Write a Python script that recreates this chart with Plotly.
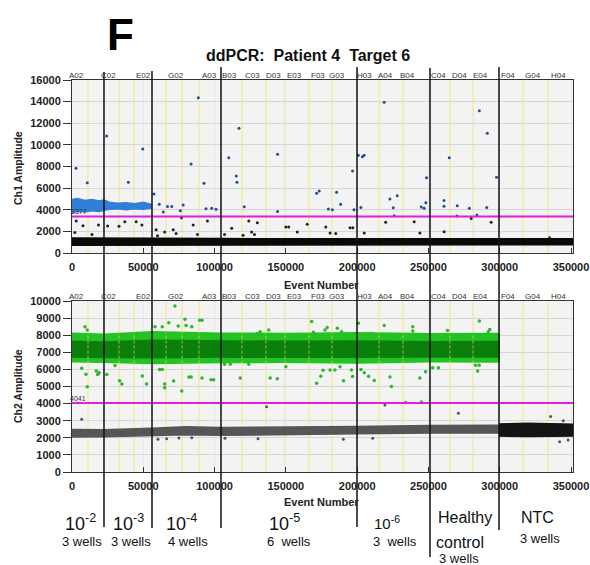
import plotly.graph_objects as go

# ---------------- data ----------------
x_ticks = [0, 50000, 100000, 150000, 200000, 250000, 300000, 350000]
ch1_ticks = [0, 2000, 4000, 6000, 8000, 10000, 12000, 14000, 16000]
ch2_ticks = [0, 1000, 2000, 3000, 4000, 5000, 6000, 7000, 8000, 9000, 10000]

well_labels = ["A02", "C02", "E02", "G02", "A03", "B03", "C03", "D03", "E03", "F03",
               "G03", "H03", "A04", "B04", "C04", "D04", "E04", "F04", "G04", "H04"]
well_label_x = [3500, 25250, 49800, 72900, 96100, 110800, 126300, 141000, 156400, 172600,
                185900, 205500, 219600, 235000, 256800, 271500, 286300, 305900, 323500, 341000]
well_bounds = [11220, 32970, 43490, 65930, 77150, 89080, 119240, 136070, 149400, 166230,
               182360, 215330, 232160, 265130, 281260, 316330, 333860]
group_bounds = [22440, 56110, 104500, 199900, 251100, 299500]

ch1_threshold = 3377
ch2_threshold = 4041

# Ch1 negative droplet band (black)
neg1_x = [0, 22440, 56100, 104500, 150000, 199900, 251100, 299500, 351000]
neg1_lo = [720, 760, 740, 760, 750, 760, 740, 760, 770]
neg1_hi = [1380, 1350, 1360, 1330, 1340, 1350, 1360, 1330, 1320]

# Ch1 positive droplet band (blue)
pos1_x = [0, 4000, 9000, 14000, 19000, 22440, 26000, 32000, 38000, 44000, 50000, 55500]
pos1_lo = [3750, 3850, 3800, 3900, 3850, 3950, 4050, 4100, 4000, 4100, 4050, 4150]
pos1_hi = [4950, 5050, 4850, 4950, 4800, 4900, 4700, 4600, 4650, 4550, 4700, 4500]

# Ch1 scattered droplets above threshold
ch1_hi_x = [2800, 10700, 24300, 39500, 49600, 57500, 83500, 92600, 109900, 117100, 115200,
            115700, 120800, 144200, 144200, 61200, 67000, 70000, 78000, 94000, 98000, 101000,
            64000, 76000, 171600, 173400, 179800, 182600, 185600, 188400, 196800, 197800,
            200800, 203700, 204900, 202600, 219000, 223000, 225300, 228100, 245000, 247000,
            248200, 248700, 260900, 260900, 264600, 270200, 278700, 285700, 291300, 290900,
            297800, 88600, 226000, 270000, 284000]
ch1_hi_y = [7830, 6500, 10820, 6540, 9620, 5460, 8230, 6450, 8820, 11530, 7120,
            6540, 4280, 9130, 3830, 4500, 4300, 4300, 4450, 4100, 4150, 4050,
            3800, 3900, 5520, 5730, 4070, 4000, 5610, 4500, 7590, 4000,
            9030, 8900, 9050, 4200, 13940, 4990, 4190, 5300, 4250, 4150,
            4650, 6970, 4850, 4320, 8820, 4370, 4140, 13160, 11070, 4210,
            7000, 14350, 3450, 3420, 3520]
# Ch1 scattered droplets below threshold
ch1_lo_x = [3000, 7700, 18600, 25000, 33000, 37000, 45000, 49000, 59000, 65000, 71000,
            73000, 76800, 85000, 88000, 95000, 107000, 112000, 124000, 126000, 128000,
            130000, 150000, 152000, 158000, 165000, 178000, 181000, 185000, 195000, 197000,
            205000, 220000, 240000, 244000, 261000, 280000, 294000, 335000, 2000,
            14000, 60000, 120000]
ch1_lo_y = [2950, 2520, 2600, 2500, 2480, 2900, 2900, 2600, 2150, 1950, 2150,
            1800, 3250, 2600, 1700, 2950, 1720, 2280, 2950, 1950, 1720,
            2800, 2400, 2400, 1950, 2650, 2400, 1850, 1800, 2340, 2340,
            1850, 2850, 2900, 1850, 1960, 3200, 2850, 1400, 1900,
            1700, 1600, 1650]

# Ch2 positive droplet band (green): outer and core
pos2_x = [0, 22440, 56100, 80000, 104500, 150000, 199900, 251100, 299500]
pos2_lo = [6450, 6420, 6350, 6380, 6400, 6420, 6380, 6450, 6430]
pos2_hi = [8110, 8050, 8200, 8150, 8120, 8100, 8150, 8080, 8100]
core2_lo = [6720, 6700, 6680, 6700, 6720, 6710, 6700, 6730, 6720]
core2_hi = [7640, 7600, 7700, 7680, 7650, 7640, 7660, 7620, 7630]

# Ch2 negative droplet bands (gray for samples, black for NTC)
neg2_x = [0, 22440, 56100, 80000, 104500, 150000, 199900, 251100, 299500]
neg2_lo = [2050, 2060, 2120, 2180, 2150, 2200, 2230, 2280, 2280]
neg2_hi = [2480, 2470, 2560, 2650, 2600, 2620, 2660, 2720, 2740]
ntc_x = [299500, 320000, 351000]
ntc_lo = [2100, 2080, 2100]
ntc_hi = [2810, 2850, 2800]

# Ch2 scattered droplets above threshold
ch2_hi_x = [9100, 10700, 6800, 9800, 10700, 17000, 19000, 18000, 24400, 30200, 34800, 33400,
            35000, 45300, 49300, 52300, 54200, 58200, 63300, 65900, 67900, 72200, 74500,
            79200, 84000, 89600, 91200, 80000, 61400, 63300, 65000, 65000, 71300, 77000,
            82000, 83600, 91200, 97500, 99400, 107000, 111000, 118000, 124000, 130000,
            132000, 138000, 139000, 144000, 150000, 168100, 169300, 177400, 179000, 186100,
            189100, 171600, 174500, 176100, 181000, 184400, 188000, 196000, 196800, 190400,
            200800, 202700, 205000, 208000, 212000, 210000, 219000, 223000, 224000, 230000,
            239000, 239000, 244000, 263400, 248000, 253000, 257000, 285700, 292000, 293000,
            283000, 284500, 285600, 234000, 245000]
ch2_hi_y = [8500, 8310, 6070, 5710, 4990, 5900, 5800, 5700, 5700, 6230, 8010, 5330,
            5150, 8100, 5620, 5150, 8050, 8500, 8500, 8100, 8730, 9710, 8540,
            8930, 8500, 8880, 8880, 8560, 6000, 6000, 5150, 4920, 5320, 4740,
            5560, 5560, 5500, 5400, 5400, 6300, 6300, 5500, 6300, 8100,
            8200, 8300, 5500, 5450, 6150, 8800, 8170, 8300, 8450, 8400,
            8200, 5190, 5600, 5950, 5970, 5970, 6160, 5970, 5580, 5330,
            8700, 6000, 5800, 5600, 5350, 8100, 8560, 5560, 5000, 8000,
            8500, 8250, 5500, 8270, 5860, 6100, 6100, 8830, 8200, 8330,
            6250, 5900, 6250, 4060, 4100]
# Ch2 scattered droplets below threshold
ch2_lo_x = [6800, 136500, 219500, 271000, 60300, 66400, 75000, 84000, 107300, 130500,
            190300, 210900, 335700, 344600, 348000, 342000]
ch2_lo_y = [3080, 3820, 3920, 3430, 1910, 1950, 1990, 2010, 1970, 1950,
            1910, 1970, 3240, 3000, 1870, 1770]

# bottom group annotations
group_names = ["10<sup>-2</sup>", "10<sup>-3</sup>", "10<sup>-4</sup>", "10<sup>-5</sup>", "10<sup>-6</sup>"]
group_wells = ["3 wells", "3 wells", "4 wells", "6&nbsp; wells", "3&nbsp; wells"]

# ---------------- layout helpers ----------------
W, H = 590, 565
def fx(p):
    return p / W
def fy(p):
    return 1 - p / H

X_DOM = [fx(72), fx(573)]
X_RANGE = [0, 351400]
FONT = "Liberation Sans, Arial, sans-serif"

fig = go.Figure()

def band(x, lo, hi, color, xa, ya):
    xs = list(x) + list(x)[::-1]
    ys = list(hi) + list(lo)[::-1]
    fig.add_trace(go.Scatter(x=xs, y=ys, fill="toself", fillcolor=color, mode="lines",
                             line=dict(color=color, width=1.5), hoverinfo="skip",
                             showlegend=False, xaxis=xa, yaxis=ya))

# top (Ch1)
band(neg1_x, neg1_lo, neg1_hi, "#0a0a0a", "x", "y")
band(pos1_x, pos1_lo, pos1_hi, "#2f7fd8", "x", "y")
fig.add_trace(go.Scatter(x=ch1_hi_x, y=ch1_hi_y, mode="markers",
                         marker=dict(size=3, color="#1d4f96"), showlegend=False,
                         xaxis="x", yaxis="y"))
fig.add_trace(go.Scatter(x=ch1_lo_x, y=ch1_lo_y, mode="markers",
                         marker=dict(size=3, color="#222222"), showlegend=False,
                         xaxis="x", yaxis="y"))

# bottom (Ch2)
band(neg2_x, neg2_lo, neg2_hi, "#565656", "x2", "y2")
band(ntc_x, ntc_lo, ntc_hi, "#141414", "x2", "y2")
band(pos2_x, pos2_lo, pos2_hi, "#22c322", "x2", "y2")
band(pos2_x, core2_lo, core2_hi, "#0b7f0b", "x2", "y2")
fig.add_trace(go.Scatter(x=ch2_hi_x, y=ch2_hi_y, mode="markers",
                         marker=dict(size=3.5, color="#2fb52f"), showlegend=False,
                         xaxis="x2", yaxis="y2"))
fig.add_trace(go.Scatter(x=ch2_lo_x, y=ch2_lo_y, mode="markers",
                         marker=dict(size=3, color="#555555"), showlegend=False,
                         xaxis="x2", yaxis="y2"))

shapes = []
# yellow well separators
for xb in well_bounds:
    for xr, yr in (("x", "y domain"), ("x2", "y2 domain")):
        shapes.append(dict(type="line", xref=xr, yref=yr, x0=xb, x1=xb, y0=0, y1=1,
                           line=dict(color="#f3eca0", width=1.5), layer="below"))
    # separators showing through the translucent green droplet cloud
    if xb < max(pos2_x):
        shapes.append(dict(type="line", xref="x2", yref="y2", x0=xb, x1=xb,
                           y0=min(pos2_lo), y1=max(pos2_hi), opacity=0.45,
                           line=dict(color="#e8e070", width=1.5, dash="3px,2px"),
                           layer="above"))
# thresholds
shapes.append(dict(type="line", xref="x domain", yref="y", x0=0, x1=1,
                   y0=ch1_threshold, y1=ch1_threshold, line=dict(color="#e01de0", width=2)))
shapes.append(dict(type="line", xref="x2 domain", yref="y2", x0=0, x1=1,
                   y0=ch2_threshold, y1=ch2_threshold, line=dict(color="#e01de0", width=2)))
# black group separators spanning both plots
group_line_top = [72, 71, 67, 67, 68, 67]
group_line_bot = [527, 528, 528, 527, 557, 530]
for xb, t, b in zip(group_bounds, group_line_top, group_line_bot):
    shapes.append(dict(type="line", xref="x", yref="paper", x0=xb, x1=xb,
                       y0=fy(b), y1=fy(t), line=dict(color="#111111", width=1.5),
                       layer="above"))

annotations = []
def note(text, cx, cy, size, color="#111111", angle=0):
    annotations.append(dict(text=text, x=fx(cx), y=fy(cy), xref="paper", yref="paper",
                            xanchor="center", yanchor="middle", showarrow=False,
                            textangle=angle, borderpad=0,
                            font=dict(family=FONT, size=size, color=color)))

# well labels above each plot
for lab, xv in zip(well_labels, well_label_x):
    for xa, top in (("x", 80), ("x2", 301)):
        annotations.append(dict(text=lab, x=xv, xref=xa, y=fy(top), yref="paper",
                                yanchor="bottom", xanchor="center", showarrow=False,
                                borderpad=0, yshift=-1,
                                font=dict(family=FONT, size=8, color="#333333")))
# threshold value labels
annotations.append(dict(text=str(ch1_threshold), x=0, xref="x", y=ch1_threshold, yref="y",
                        xanchor="left", yanchor="bottom", showarrow=False, xshift=-2,
                        borderpad=0, font=dict(family=FONT, size=7, color="#333333")))
annotations.append(dict(text=str(ch2_threshold), x=0, xref="x2", y=ch2_threshold, yref="y2",
                        xanchor="left", yanchor="bottom", showarrow=False, xshift=-3,
                        borderpad=0, font=dict(family=FONT, size=7, color="#333333")))
# panel letter and title
note("<b>F</b>", 120, 34, 44, "#000000")
note("<b>ddPCR:&nbsp; Patient 4&nbsp; Target 6</b>", 308, 55, 16)
# axis titles
note("<b>Ch1 Amplitude</b>", 18, 168, 10.5, "#222222", -90)
note("<b>Ch2 Amplitude</b>", 18, 386, 10.5, "#222222", -90)
note("<b>Event Number</b>", 321, 285, 11, "#222222")
note("<b>Event Number</b>", 321, 502, 11, "#222222")
# group labels below
name_cx = [80, 128, 181, 284, 387]
name_sz = [18, 18, 18, 18, 15]
wells_cx = [82, 131, 188, 289, 395]
for n, w, cx, sz, wcx in zip(group_names, group_wells, name_cx, name_sz, wells_cx):
    note(n, cx, 522, sz)
    note(w, wcx, 541, 13)
note("Healthy", 465, 517, 16)
note("control", 460, 542, 16)
note("3 wells", 459, 558, 13)
note("NTC", 537, 517, 16)
note("3 wells", 540, 538, 13)

tickfont = dict(family=FONT, size=11, color="#222222")
xcommon = dict(domain=X_DOM, range=X_RANGE, tickvals=x_ticks,
               ticktext=["<b>%d</b>" % v for v in x_ticks], ticks="inside", ticklen=5,
               tickcolor="#333333", showline=True, linecolor="#333333", linewidth=1,
               mirror=True, showgrid=True, gridcolor="#e6e6ee", gridwidth=1,
               zeroline=False, tickfont=tickfont, automargin=False, ticklabelstandoff=4)
ycommon = dict(ticks="outside", ticklen=8, tickcolor="#333333", showline=True,
               linecolor="#333333", mirror=True, gridcolor="#d6d6d6", zeroline=False,
               tickfont=tickfont, automargin=False)
fig.update_layout(
    width=W, height=H, margin=dict(l=0, r=0, t=0, b=0, pad=0, autoexpand=False),
    paper_bgcolor="#ffffff", plot_bgcolor="#f3f3f3", showlegend=False,
    xaxis=dict(anchor="y", **xcommon),
    xaxis2=dict(anchor="y2", **xcommon),
    yaxis=dict(domain=[fy(253), fy(80)], range=[0, 16000], tickvals=ch1_ticks,
               ticktext=["<b>%d</b>" % v for v in ch1_ticks], anchor="x", **ycommon),
    yaxis2=dict(domain=[fy(472), fy(301)], range=[0, 10000], tickvals=ch2_ticks,
                ticktext=["<b>%d</b>" % v for v in ch2_ticks], anchor="x2", **ycommon),
    shapes=shapes, annotations=annotations,
)

fig.write_html("out.html")
